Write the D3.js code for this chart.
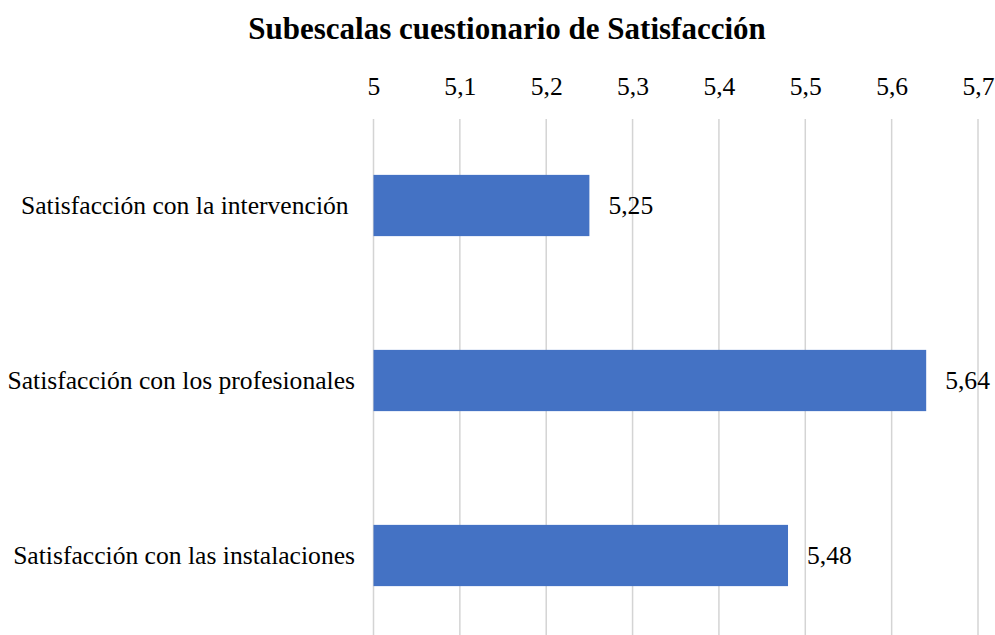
<!DOCTYPE html>
<html>
<head>
<meta charset="utf-8">
<script src="https://cdn.jsdelivr.net/npm/d3@7"></script>
<style>
  body { margin: 0; background: #fff; }
  text { font-family: "Liberation Serif", "Times New Roman", serif; }
</style>
</head>
<body>
<svg id="chart"></svg>
<script>
const categories = ["Satisfacción con la intervención ", "Satisfacción con los profesionales", "Satisfacción con las instalaciones"];
const values = [5.25, 5.64, 5.48];
const tickValues = [5, 5.1, 5.2, 5.3, 5.4, 5.5, 5.6, 5.7];
const title = "Subescalas cuestionario de Satisfacción";

const width = 995, height = 635;
const svg = d3.select("#chart").attr("width", width).attr("height", height);

const x = d3.scaleLinear().domain([5, 5.7]).range([373.5, 978]);
const y = d3.scaleBand().domain(categories).range([118, 643])
  .paddingInner(0.65).paddingOuter(0.325);

const fmt = d => String(+d.toFixed(2)).replace(".", ",");

// title
svg.append("text")
  .attr("x", 507).attr("y", 39)
  .attr("text-anchor", "middle")
  .style("font-size", "31px").style("font-weight", "bold")
  .text(title);

// gridlines
svg.append("g").selectAll("line")
  .data(tickValues)
  .join("line")
  .attr("x1", d => x(d)).attr("x2", d => x(d))
  .attr("y1", 119).attr("y2", height)
  .attr("stroke", "#d4d4d4").attr("stroke-width", 1.5);

// top axis
const axis = svg.append("g")
  .attr("transform", "translate(0,103)")
  .call(d3.axisTop(x).tickValues(tickValues).tickFormat(fmt).tickSize(0).tickPadding(8));
axis.select(".domain").remove();
axis.selectAll("text").style("font-size", "25.6px").style("font-family", "Liberation Serif").attr("fill", "#000");

// bars
svg.append("g").selectAll("rect")
  .data(values)
  .join("rect")
  .attr("x", x(5))
  .attr("y", (d, i) => y(categories[i]))
  .attr("width", d => x(d) - x(5))
  .attr("height", y.bandwidth())
  .attr("fill", "#4472c4");

// value labels
svg.append("g").selectAll("text")
  .data(values)
  .join("text")
  .attr("x", d => x(d) + 19)
  .attr("y", (d, i) => y(categories[i]) + y.bandwidth() / 2)
  .attr("dy", "0.35em")
  .style("font-size", "25.6px")
  .text(d => fmt(d));

// category labels
svg.append("g").selectAll("text")
  .data(categories)
  .join("text")
  .attr("x", 355)
  .attr("y", d => y(d) + y.bandwidth() / 2)
  .attr("dy", "0.35em")
  .attr("text-anchor", "end")
  .style("font-size", "25.6px")
  .style("white-space", "pre")
  .text(d => d);
</script>
</body>
</html>
